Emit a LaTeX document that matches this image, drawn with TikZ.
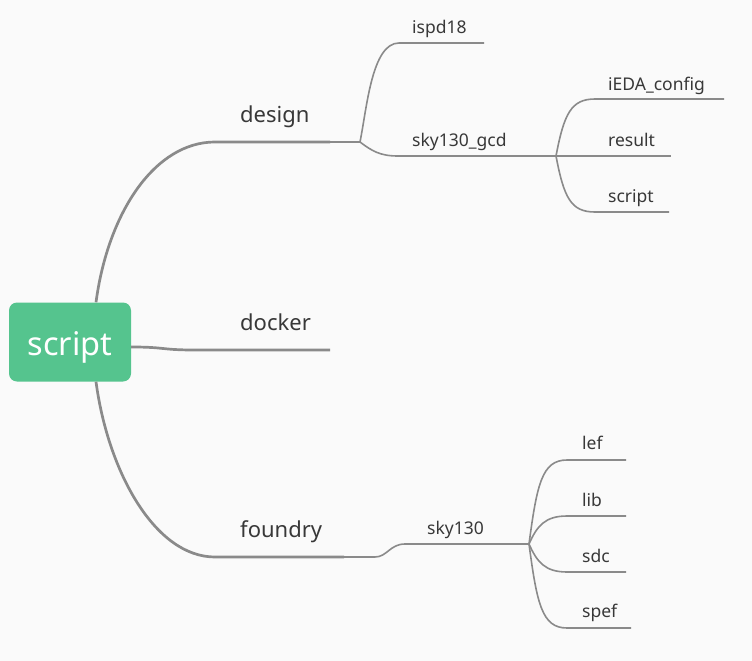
\documentclass[tikz,border=0pt]{standalone}
\usepackage{fontspec}
\setmainfont{Noto Sans}
\definecolor{bg}{HTML}{FAFAFA}
\definecolor{rootgreen}{HTML}{55C48E}
\definecolor{edge}{HTML}{8A8A8A}
\definecolor{txt}{HTML}{383838}
\tikzset{
  bigline/.style={line width=2.7pt,draw=edge},
  thinline/.style={line width=1.6pt,draw=edge},
  topic/.style={anchor=base west,inner sep=0pt,text=txt,font=\fontsize{22}{26}\selectfont},
  subtopic/.style={anchor=base west,inner sep=0pt,text=txt,font=\fontsize{17.5}{20}\selectfont}
}
\begin{document}
\begin{tikzpicture}[x=1pt,y=-1pt]
\fill[bg] (0,0) rectangle (752,661);
\useasboundingbox (0,0) rectangle (752,661);
% root
\node[fill=rootgreen,rounded corners=8pt,minimum width=122pt,minimum height=79pt,
  text height=30pt,text depth=4pt,text=white,font=\fontsize{32.5}{36}\selectfont] (root) at (70,342) {script};
% topics
\node[topic] (design) at (240,122) {design};
\node[topic] (docker) at (240,330) {docker};
\node[topic] (foundry) at (240,537) {foundry};
% subtopics
\node[subtopic] (ispd) at (412,34) {ispd18};
\node[subtopic] (gcd) at (412,146) {sky130\_gcd};
\node[subtopic] (ieda) at (608,90) {iEDA\_config};
\node[subtopic] (result) at (608,146) {result};
\node[subtopic] (gscript) at (608,202) {script};
\node[subtopic] (sky) at (427,534) {sky130};
\node[subtopic] (lef) at (582,449) {lef};
\node[subtopic] (lib) at (582,506) {lib};
\node[subtopic] (sdc) at (582,562) {sdc};
\node[subtopic] (spef) at (582,617) {spef};
% line ends
\coordinate (d0) at (215,142);
\coordinate (d1) at (330,142);
\coordinate (dj) at (360,142);
\coordinate (i0) at (399,43);
\coordinate (i1) at (484,43);
\coordinate (g0) at (398,156);
\coordinate (gj) at (556,156);
\coordinate (e0) at (595,99);
\coordinate (e1) at (724,99);
\coordinate (r1) at (671,156);
\coordinate (s0) at (595,212);
\coordinate (s1) at (669,212);
\coordinate (k0) at (195,350);
\coordinate (k1) at (330,350);
\coordinate (f0) at (215,557);
\coordinate (f1) at (344,557);
\coordinate (fj) at (375,557);
\coordinate (y0) at (405,544);
\coordinate (yj) at (529,544);
\coordinate (l0) at (567,460);
\coordinate (l1) at (626,460);
\coordinate (b0) at (567,516);
\coordinate (b1) at (626,516);
\coordinate (c0) at (567,572);
\coordinate (c1) at (626,572);
\coordinate (p0) at (567,628);
\coordinate (p1) at (631,628);
% main branches
\draw[bigline] ([xshift=26pt]root.north) .. controls +(12,-90) and +(-60,0) .. (d0) -- (d1);
\draw[bigline] ([yshift=-5pt]root.east) .. controls +(35,0) and +(-35,0) .. (k0) -- (k1);
\draw[bigline] ([xshift=26pt]root.south) .. controls +(12,90) and +(-60,0) .. (f0) -- (f1);
% design
\draw[thinline] (d1) -- (dj);
\draw[thinline] (dj) .. controls +(7,-35) and +(-27,0) .. (i0) -- (i1);
\draw[thinline] (dj) .. controls +(12,9) and +(-18,0) .. (g0) -- (gj);
\draw[thinline] (gj) .. controls +(8,-42) and +(-24,0) .. (e0) -- (e1);
\draw[thinline] (gj) -- (r1);
\draw[thinline] (gj) .. controls +(8,42) and +(-24,0) .. (s0) -- (s1);
% foundry
\draw[thinline] (f1) -- (fj) .. controls +(12,0) and +(-15,0) .. (y0) -- (yj);
\draw[thinline] (yj) .. controls +(8,-60) and +(-25,0) .. (l0) -- (l1);
\draw[thinline] (yj) .. controls +(8,-18) and +(-22,0) .. (b0) -- (b1);
\draw[thinline] (yj) .. controls +(8,18) and +(-22,0) .. (c0) -- (c1);
\draw[thinline] (yj) .. controls +(8,60) and +(-25,0) .. (p0) -- (p1);
\end{tikzpicture}
\end{document}
